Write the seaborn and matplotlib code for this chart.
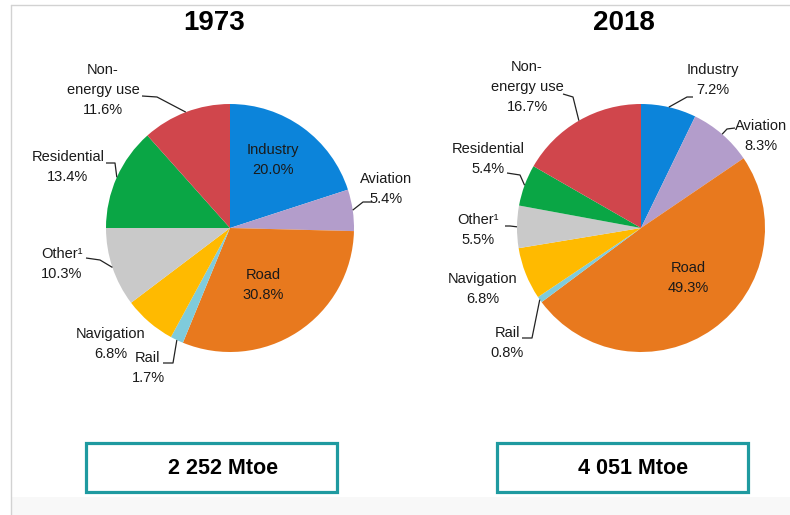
import numpy as np
import matplotlib
matplotlib.use("Agg")
import matplotlib.pyplot as plt
from matplotlib.patches import Rectangle
import seaborn as sns

# 數據 (transport / final consumption shares, %)
categories = ["Industry", "Aviation", "Road", "Rail", "Navigation",
              "Other\u00b9", "Residential", "Non-\nenergy use"]
shares_1973 = [20.0, 5.4, 30.8, 1.7, 6.8, 10.3, 13.4, 11.6]
shares_2018 = [7.2, 8.3, 49.3, 0.8, 6.8, 5.5, 5.4, 16.7]
years = ["1973", "2018"]
totals = ["2 252 Mtoe", "4 051 Mtoe"]
colors = ["#0C84DA", "#B39DCB", "#E8791E", "#7FCBDC", "#FFBA00",
          "#C9C9C9", "#0AA645", "#D0464C"]

W, H = 790, 515
LINE_STEP = 20  # 標籤行距 (px)

sns.set_theme(style="white")
plt.rcParams['font.family'] = ['Liberation Sans', 'DejaVu Sans']

fig = plt.figure(figsize=(W / 100, H / 100), dpi=100)
ax = fig.add_axes([0, 0, 1, 1])
ax.set_axis_off()


def Y(y):
    # 像素座標 (上方為 0) 轉為軸座標
    return H - y


# 文字位置 (center x, center y in px) 及引線 (px 點, 最後連到扇形邊緣)
layouts = [
    {
        "center": (230, 228), "title_x": 214, "box": (86, 443, 337, 492), "total_x": 223,
        "labels": [
            (273, 160, None), (386, 189, [(372, 202), (363, 202)]),
            (263, 285, None), (148, 368, [(163, 363), (173, 363)]),
            (111, 344, None), (62, 264, [(86, 258), (100, 260)]),
            (68, 167, [(106, 163), (115, 163)]), (103, 90, [(142, 96), (157, 97)]),
        ],
    },
    {
        "center": (641, 228), "title_x": 624, "box": (497, 443, 748, 492), "total_x": 633,
        "labels": [
            (713, 80, [(693, 97), (687, 97)]), (761, 136, [(735, 128), (727, 129)]),
            (688, 278, None), (507, 343, [(522, 338), (532, 338)]),
            (483, 289, None), (478, 230, [(505, 226), (510, 226)]),
            (488, 159, [(507, 173), (520, 175)]), (527, 87, [(563, 94), (573, 97)]),
        ],
    },
]

radius = 124
for shares, year, total, lay in zip([shares_1973, shares_2018], years, totals, layouts):
    cx, cy = lay["center"]
    wedges, _ = ax.pie(shares, colors=sns.color_palette(colors), startangle=90,
                       counterclock=False, radius=radius, center=(cx, Y(cy)),
                       wedgeprops=dict(linewidth=0), frame=True)
    for cat, val, w, (tx, ty, leader) in zip(categories, shares, wedges, lay["labels"]):
        lines = cat.split("\n") + [f"{val:.1f}%"]
        top = ty - LINE_STEP * (len(lines) - 1) / 2
        for i, line in enumerate(lines):
            ax.text(tx, Y(top + i * LINE_STEP), line, ha="center", va="center",
                    fontsize=10.5, color="#1a1a1a", clip_on=False)
        if leader:
            mid = np.deg2rad((w.theta1 + w.theta2) / 2)
            ax_x = w.center[0] + w.r * np.cos(mid)
            ax_y = w.center[1] + w.r * np.sin(mid)
            xs = [p[0] for p in leader] + [ax_x]
            ys = [Y(p[1]) for p in leader] + [ax_y]
            ax.plot(xs, ys, color="#222222", lw=0.9, solid_capstyle="butt")
    ax.text(lay["title_x"], Y(23), year, ha="center", va="center",
            fontsize=20, fontweight="bold", color="black")
    x0, y0, x1, y1 = lay["box"]
    ax.add_patch(Rectangle((x0, Y(y1)), x1 - x0, y1 - y0, facecolor="white",
                           edgecolor="#1F9AA0", lw=2.3))
    ax.text(lay["total_x"], Y(468), total, ha="center", va="center",
            fontsize=15.5, fontweight="bold", color="black")

# 背景邊框
ax.add_patch(Rectangle((11, 0), W - 11, Y(497), facecolor="#f8f8f8",
                       edgecolor="none", zorder=0))
ax.plot([11, 11], [0, Y(5)], color="#d2d2d2", lw=1)
ax.plot([11, W], [Y(5), Y(5)], color="#d2d2d2", lw=1)

ax.set_xlim(0, W)
ax.set_ylim(0, H)
ax.set_aspect("auto")
ax.set_axis_off()

fig.savefig("out.png", dpi=100, facecolor="white")
